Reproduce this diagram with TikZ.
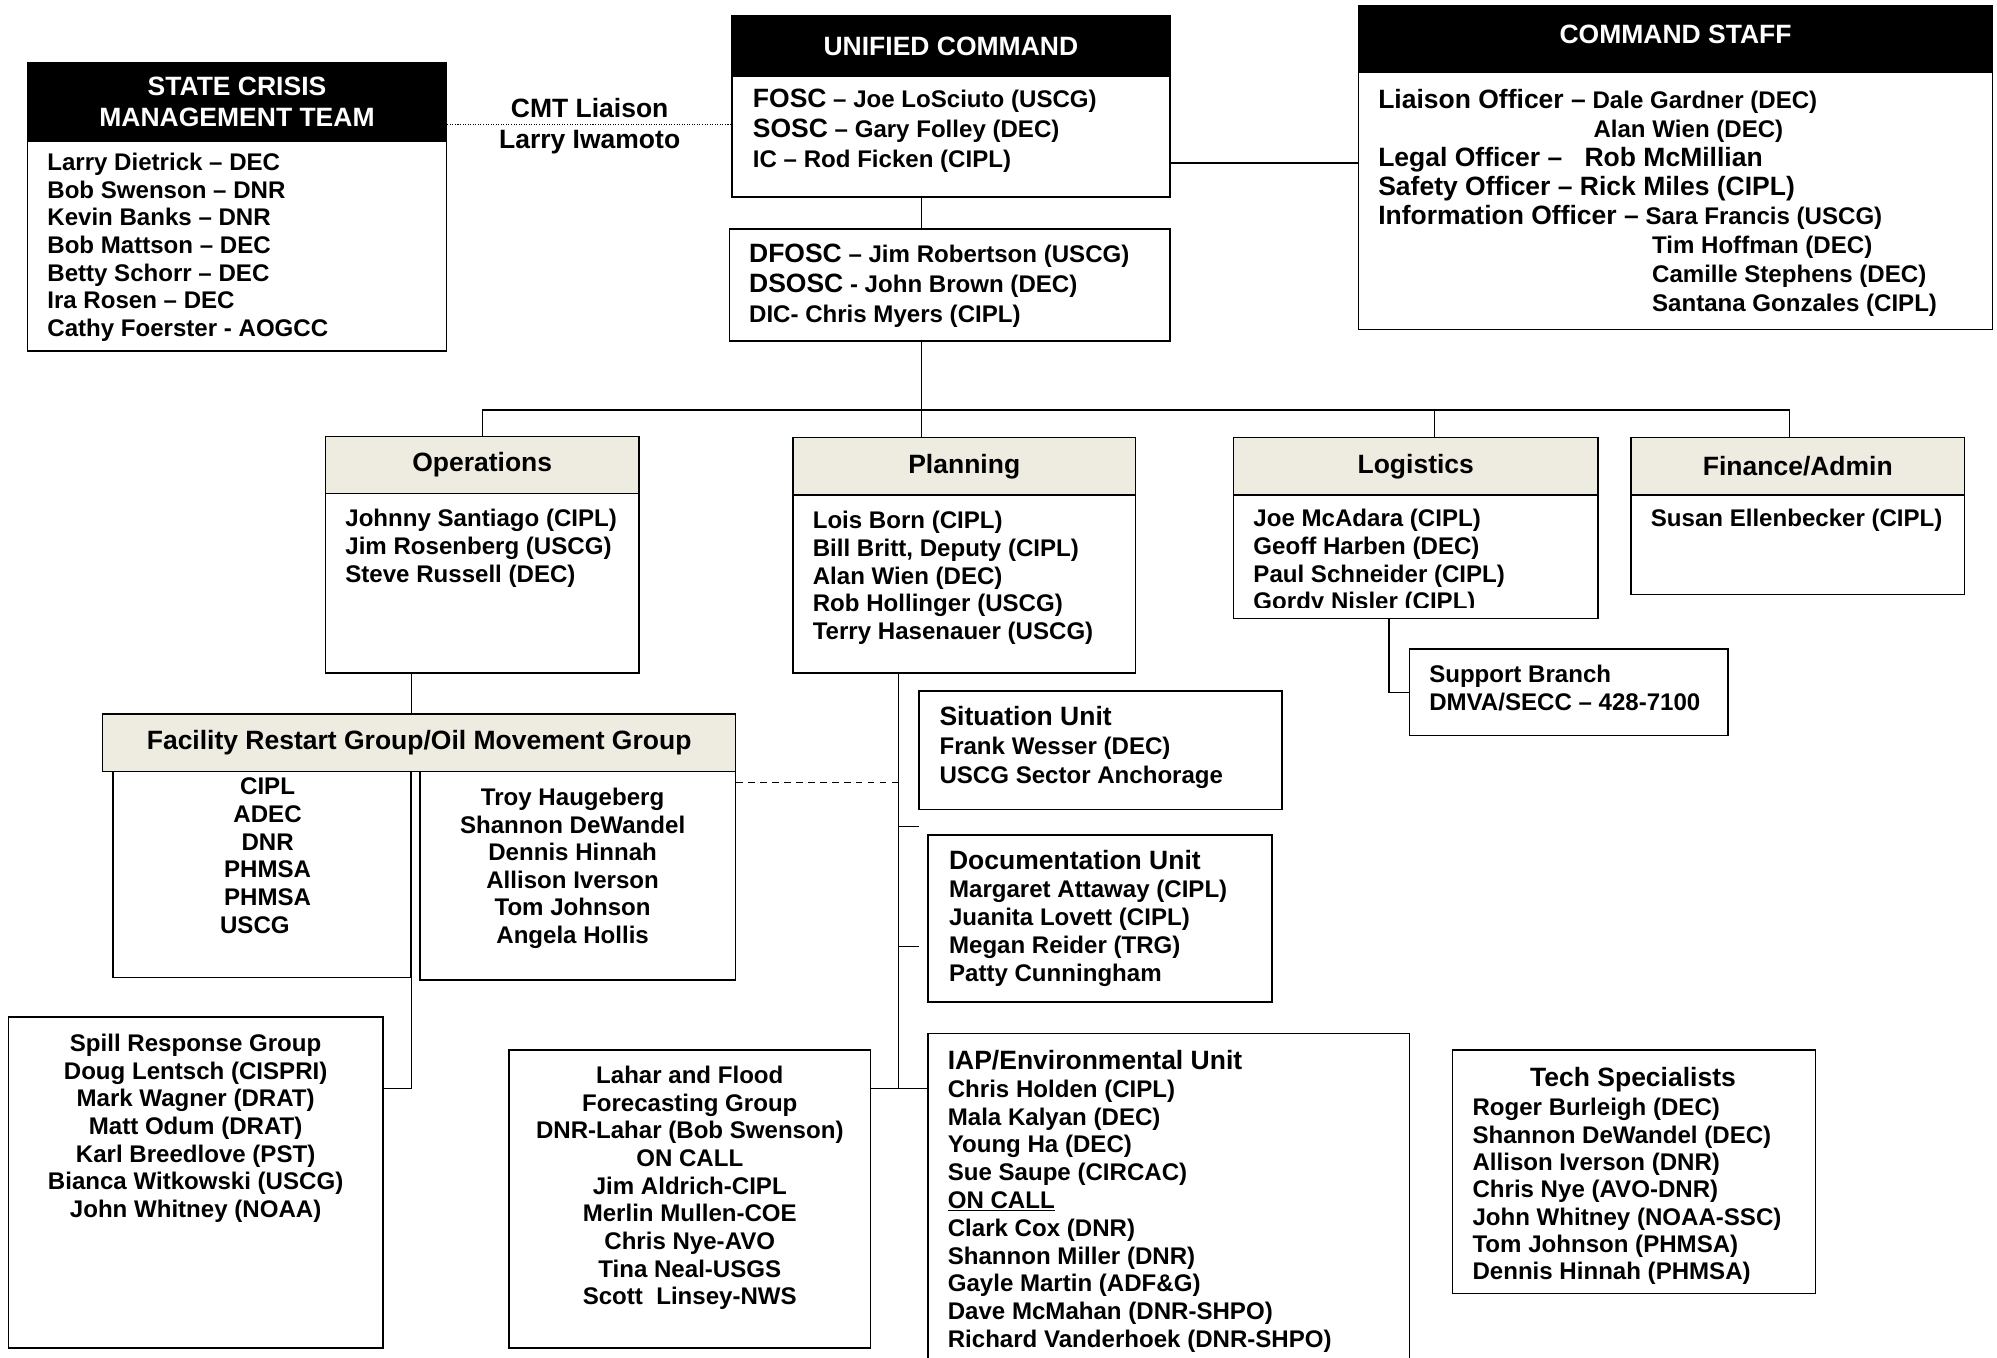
\documentclass[tikz,border=0pt]{standalone}
\usepackage{fontspec}
\setmainfont{Liberation Sans}
\usepackage{tikz}
\usetikzlibrary{calc}
\definecolor{headbg}{HTML}{EEECE1}
\newcommand{\bigfont}{\bfseries\fontsize{20.8}{24}\selectfont}
\newcommand{\bigpart}[1]{{\fontsize{20.8}{24}\selectfont #1}}
\tikzstyle{box} = [rectangle, draw, line width=1.2pt, anchor=north west, inner sep=0pt]
\tikzstyle{head} = [box, fill=headbg, font=\bigfont]
\tikzstyle{blackhead} = [box, fill=black, text=white, font=\bigfont, align=center]
\tikzstyle{names} = [anchor=north west, inner sep=0pt, align=left]
\tikzstyle{cnames} = [anchor=north, inner sep=0pt, align=center]
\tikzstyle{line} = [draw, line width=1pt]
\tikzstyle{dotline} = [draw, line width=0.8pt, dash pattern=on 0.8pt off 1.2pt]
\tikzstyle{dashline} = [draw, line width=1.2pt, dash pattern=on 5pt off 4.4pt]

\begin{document}
\begin{tikzpicture}[x=1pt, y=-1pt, every node/.style={font=\bfseries\fontsize{18.9}{21.7}\selectfont}]

\useasboundingbox (0,0) rectangle (1568,1065.5);

\coordinate (spine) at (723.5,0);
\coordinate (bus) at (0,322);
\coordinate (staffjoin) at (0,128);
\coordinate (logidrop) at (1126.6,322);
\coordinate (findrop) at (1405,322);
\coordinate (dashjoin) at (705.5,614.5);
\coordinate (planspine) at (705.5,854.5);
\coordinate (stub1) at (721.6,649);
\coordinate (stub2) at (721.6,743);

\node [box, minimum width=329pt, minimum height=226pt] (scmt) at (21,49) {};
\node [blackhead, minimum width=329pt, minimum height=61pt] (scmthead) at (21,49) {STATE CRISIS\\MANAGEMENT TEAM};
\node [names] (scmttext) at ($(scmt.north west)+(16,71)$) {Larry Dietrick – DEC\\Bob Swenson – DNR\\Kevin Banks – DNR\\Bob Mattson – DEC\\Betty Schorr – DEC\\Ira Rosen – DEC\\Cathy Foerster - AOGCC};

\node [align=center, font=\bigfont, inner sep=0pt] (liaison) at (463,99) {CMT Liaison\\[1pt]Larry Iwamoto};

\node [box, minimum width=344pt, minimum height=142pt] (uc) at (574,12) {};
\node [blackhead, minimum width=344pt, minimum height=47pt] (uchead) at (574,12) {UNIFIED COMMAND};
\node [names, font=\bfseries\fontsize{18.9}{23.5}\selectfont] (uctext) at ($(uc.north west)+(17,57.5)$) {\bigpart{FOSC} – Joe LoSciuto (USCG)\\\bigpart{SOSC} – Gary Folley (DEC)\\IC – Rod Ficken (CIPL)};

\node [box, minimum width=346pt, minimum height=88pt] (dfosc) at (572,179) {};
\node [names, font=\bfseries\fontsize{18.9}{23.5}\selectfont] (dfosctext) at ($(dfosc.north west)+(16,12.5)$) {\bigpart{DFOSC} – Jim Robertson (USCG)\\\bigpart{DSOSC} - John Brown (DEC)\\DIC- Chris Myers (CIPL)};

\node [box, minimum width=498pt, minimum height=254pt] (cs) at (1066,4) {};
\node [blackhead, minimum width=498pt, minimum height=52pt] (cshead) at (1066,4) {\raisebox{8pt}{COMMAND STAFF}};
\node [names, font=\bfseries\fontsize{18.9}{22.7}\selectfont] (cstext) at ($(cs.north west)+(16,66.3)$) {\bigpart{Liaison Officer –} Dale Gardner (DEC)\\\hspace*{169pt}Alan Wien (DEC)\\\bigpart{\makebox[162pt][l]{Legal Officer –}Rob McMillian}\\\bigpart{Safety Officer – Rick Miles (CIPL)}\\\bigpart{Information Officer –} Sara Francis (USCG)\\\hspace*{215pt}Tim Hoffman (DEC)\\\hspace*{215pt}Camille Stephens (DEC)\\\hspace*{215pt}Santana Gonzales (CIPL)};

\node [box, minimum width=246pt, minimum height=186pt] (ops) at (255,342) {};
\node [head, minimum width=246pt, minimum height=45pt] (opshead) at (255,342) {Operations};
\node [names] (opstext) at ($(ops.north west)+(16,57.8)$) {Johnny Santiago (CIPL)\\Jim Rosenberg (USCG)\\Steve Russell (DEC)};

\node [box, minimum width=269pt, minimum height=185pt] (plan) at (622,343) {};
\node [head, minimum width=269pt, minimum height=45pt] (planhead) at (622,343) {Planning};
\node [names] (plantext) at ($(plan.north west)+(16,58.3)$) {Lois Born (CIPL)\\Bill Britt, Deputy (CIPL)\\Alan Wien (DEC)\\Rob Hollinger (USCG)\\Terry Hasenauer (USCG)};

\node [box, minimum width=286pt, minimum height=142pt] (logi) at (968,343) {};
\node [head, minimum width=286pt, minimum height=45pt] (logihead) at (968,343) {Logistics};
\begin{scope}
\clip (logi.north west) rectangle ([yshift=9pt]logi.south east);
\node [names] (logitext) at ($(logi.north west)+(16,56.8)$) {Joe McAdara (CIPL)\\Geoff Harben (DEC)\\Paul Schneider (CIPL)\\Gordy Nisler (CIPL)};
\end{scope}

\node [box, minimum width=262pt, minimum height=123pt] (fin) at (1280,343) {};
\node [head, minimum width=262pt, minimum height=45pt] (finhead) at (1280,343) {Finance/Admin};
\node [names] (fintext) at ($(fin.north west)+(16,56.8)$) {Susan Ellenbecker (CIPL)};

\node [box, minimum width=250pt, minimum height=68pt] (supp) at (1106,509) {};
\node [names, font=\bfseries\fontsize{18.9}{22.3}\selectfont] (supptext) at ($(supp.north west)+(16,12.7)$) {Support Branch\\DMVA/SECC – 428-7100};

\node [box, minimum width=285pt, minimum height=93pt] (situ) at (721,542) {};
\node [names, font=\bfseries\fontsize{18.9}{22.7}\selectfont] (situtext) at ($(situ.north west)+(16.5,12.5)$) {\bigpart{Situation Unit}\\Frank Wesser (DEC)\\USCG Sector Anchorage};

\node [box, minimum width=270pt, minimum height=131pt] (docu) at (728,655) {};
\node [names, font=\bfseries\fontsize{18.9}{21.9}\selectfont] (docutext) at ($(docu.north west)+(17,12.6)$) {\bigpart{Documentation Unit}\\Margaret Attaway (CIPL)\\Juanita Lovett (CIPL)\\Megan Reider (TRG)\\Patty Cunningham};

\node [box, minimum width=234pt, minimum height=162pt] (frgleft) at (88,605) {};
\node [box, minimum width=248pt, minimum height=164pt] (frgright) at (329,605) {};
\node [head, minimum width=497pt, minimum height=45pt] (frghead) at (80,560) {Facility Restart Group/Oil Movement Group};
\node [cnames] (frgltext) at ($(frgleft.north)+(4.5,5.7)$) {CIPL\\ADEC\\DNR\\PHMSA\\PHMSA\\\hspace*{-20pt}USCG};
\node [cnames] (frgrtext) at ($(frgright.north)+(-4,13.5)$) {Troy Haugeberg\\Shannon DeWandel\\Dennis Hinnah\\Allison Iverson\\Tom Johnson\\Angela Hollis};

\node [box, minimum width=294pt, minimum height=260pt] (spill) at (6,798) {};
\node [cnames] (spilltext) at ($(spill.north)+(0,13.7)$) {Spill Response Group\\Doug Lentsch (CISPRI)\\Mark Wagner (DRAT)\\Matt Odum (DRAT)\\Karl Breedlove (PST)\\Bianca Witkowski (USCG)\\John Whitney (NOAA)};

\node [box, minimum width=284pt, minimum height=234pt] (lahar) at (399,824) {};
\node [cnames] (lahartext) at ($(lahar.north)+(0,13)$) {Lahar and Flood\\Forecasting Group\\DNR-Lahar (Bob Swenson)\\ON CALL\\Jim Aldrich-CIPL\\Merlin Mullen-COE\\Chris Nye-AVO\\Tina Neal-USGS\\Scott\ \ Linsey-NWS};

\node [box, minimum width=378pt, minimum height=280pt] (iap) at (728,811) {};
\node [names, font=\bfseries\fontsize{18.9}{21.8}\selectfont] (iaptext) at ($(iap.north west)+(16,13.6)$) {\bigpart{IAP/Environmental Unit}\\Chris Holden (CIPL)\\Mala Kalyan (DEC)\\Young Ha (DEC)\\Sue Saupe (CIRCAC)\\\underline{ON CALL}\\Clark Cox (DNR)\\Shannon Miller (DNR)\\Gayle Martin (ADF\&G)\\Dave McMahan (DNR-SHPO)\\Richard Vanderhoek (DNR-SHPO)};

\node [box, minimum width=285pt, minimum height=191pt] (tech) at (1140,824) {};
\node [names, font=\bfseries\fontsize{18.9}{21.5}\selectfont] (techtext) at ($(tech.north west)+(16,13.7)$) {\makebox[252pt][c]{\bigpart{Tech Specialists}}\\[1.5pt]Roger Burleigh (DEC)\\Shannon DeWandel (DEC)\\Allison Iverson (DNR)\\Chris Nye (AVO-DNR)\\John Whitney (NOAA-SSC)\\Tom Johnson (PHMSA)\\Dennis Hinnah (PHMSA)};

\path [dotline] (scmt.east |- 0,97.5) -- (uc.west |- 0,97.5);
\path [line] (uc.east |- staffjoin) -- (cs.west |- staffjoin);
\path [line] (uc.south -| spine) -- (dfosc.north -| spine);
\path [line] (dfosc.south -| spine) -- (planhead.north -| spine);
\path [line] (opshead.north) |- (findrop) -- (findrop |- finhead.north);
\path [line] (logidrop) -- (logidrop |- logihead.north);
\path [line] ([xshift=-21pt]logi.south) |- (supp.west);
\path [line] (ops.south -| frgleft.east) -- (frghead.north -| frgleft.east);
\path [line] (frgleft.south east) |- (spill.east |- planspine);
\path [dashline] (frgright.east |- dashjoin) -- (dashjoin);
\path [line] (plan.south -| planspine) -- (planspine);
\path [line] (lahar.east |- planspine) -- (iap.west |- planspine);
\path [line] (planspine |- stub1) -- (stub1);
\path [line] (planspine |- stub2) -- (stub2);

\end{tikzpicture}
\end{document}
